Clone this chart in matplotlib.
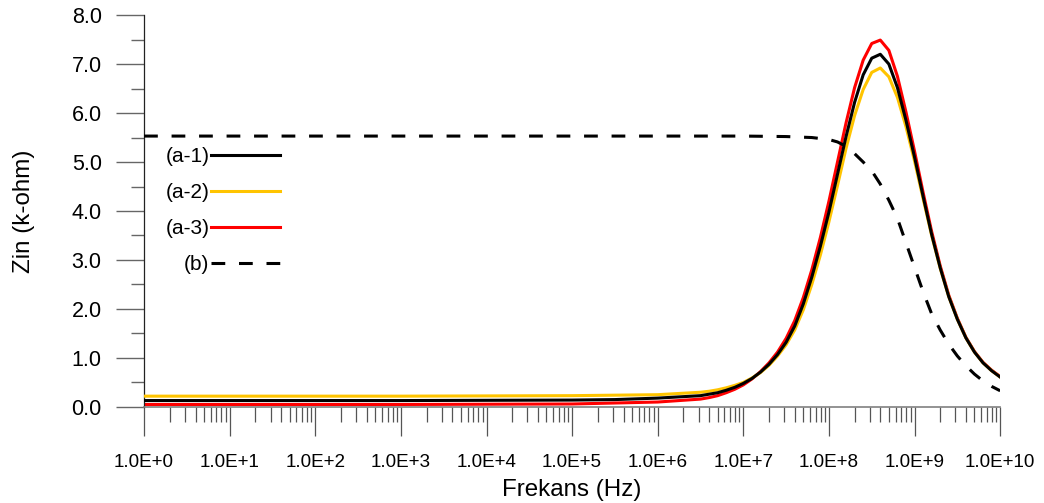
import numpy as np
import matplotlib
matplotlib.use("Agg")
import matplotlib.pyplot as plt
from matplotlib.ticker import FixedLocator, FuncFormatter, MultipleLocator

plt.rcParams['font.family'] = ['Liberation Sans', 'DejaVu Sans']

# Frequency exponents (Hz = 10**exp) for the three measured input impedances
exp_a = [0.0, 3.0, 5.0, 5.5, 6.0, 6.5, 6.6, 6.7, 6.8, 6.9, 7.0, 7.1, 7.2, 7.3,
         7.4, 7.5, 7.6, 7.7, 7.8, 7.9, 8.0, 8.1, 8.2, 8.3, 8.4, 8.5, 8.6, 8.7,
         8.8, 8.9, 9.0, 9.1, 9.2, 9.3, 9.4, 9.5, 9.6, 9.7, 9.8, 9.9, 10.0]

zin_a1 = [0.13, 0.13, 0.14, 0.15, 0.18, 0.23, 0.26, 0.29, 0.34, 0.40, 0.48,
          0.58, 0.71, 0.87, 1.07, 1.32, 1.65, 2.10, 2.65, 3.28, 3.98, 4.75,
          5.52, 6.22, 6.78, 7.12, 7.20, 7.00, 6.52, 5.85, 5.10, 4.30, 3.52,
          2.84, 2.25, 1.79, 1.41, 1.12, 0.90, 0.74, 0.61]

zin_a2 = [0.22, 0.22, 0.23, 0.24, 0.25, 0.30, 0.32, 0.35, 0.39, 0.44, 0.50,
          0.59, 0.70, 0.85, 1.04, 1.27, 1.57, 1.98, 2.50, 3.10, 3.78, 4.52,
          5.28, 5.95, 6.48, 6.83, 6.92, 6.74, 6.32, 5.72, 5.02, 4.25, 3.50,
          2.83, 2.25, 1.79, 1.41, 1.12, 0.90, 0.74, 0.61]

zin_a3 = [0.05, 0.05, 0.06, 0.08, 0.10, 0.16, 0.19, 0.23, 0.29, 0.36, 0.45,
          0.57, 0.72, 0.90, 1.12, 1.40, 1.76, 2.23, 2.80, 3.46, 4.20, 5.00,
          5.80, 6.52, 7.08, 7.42, 7.49, 7.28, 6.75, 6.02, 5.22, 4.38, 3.58,
          2.88, 2.28, 1.81, 1.42, 1.13, 0.91, 0.75, 0.62]

# Reference response (b)
exp_b = [0.0, 7.0, 7.5, 7.8, 8.0, 8.1, 8.2, 8.3, 8.4, 8.5, 8.6, 8.7, 8.8,
         8.9, 9.0, 9.1, 9.2, 9.3, 9.4, 9.5, 9.6, 9.7, 9.8, 9.9, 10.0]
zin_b = [5.53, 5.53, 5.52, 5.50, 5.46, 5.41, 5.32, 5.17, 5.00, 4.82, 4.55,
         4.22, 3.85, 3.35, 2.85, 2.35, 1.90, 1.57, 1.28, 1.04, 0.84, 0.67,
         0.53, 0.42, 0.33]

series_labels = ['(a-1)', '(a-2)', '(a-3)', '(b)']
decades = list(range(0, 11))

fig = plt.figure(figsize=(10.44, 5.03), dpi=100)
ax = fig.add_axes([0.138, 0.191, 0.820, 0.779])

f_a = np.power(10.0, exp_a)
f_b = np.power(10.0, exp_b)

lw = 2.2
l1, = ax.plot(f_a, zin_a1, color='black', lw=lw, label=series_labels[0], zorder=4)
l2, = ax.plot(f_a, zin_a2, color='#FFC400', lw=lw, label=series_labels[1], zorder=3)
l3, = ax.plot(f_a, zin_a3, color='#FF0000', lw=lw, label=series_labels[2], zorder=2)
l4, = ax.plot(f_b, zin_b, color='black', lw=lw, ls=(0, (4.5, 4.5)),
              label=series_labels[3], zorder=5)

ax.set_xscale('log')
ax.set_xlim(1, 1e10)
ax.set_ylim(0, 8)

# axis styling
for side in ('top', 'right'):
    ax.spines[side].set_visible(False)
ax.spines['left'].set_color('#222222')
ax.spines['bottom'].set_color('#808080')
ax.spines['left'].set_linewidth(0.9)
ax.spines['bottom'].set_linewidth(1.2)

ax.xaxis.set_major_locator(FixedLocator([10.0 ** d for d in decades]))
minor = [m * 10.0 ** d for d in decades[:-1] for m in range(2, 10)]
ax.xaxis.set_minor_locator(FixedLocator(minor))
ax.xaxis.set_major_formatter(FuncFormatter(lambda v, p: "1.0E+%d" % round(np.log10(v))))
ax.xaxis.set_minor_formatter(FuncFormatter(lambda v, p: ""))

ax.yaxis.set_major_locator(MultipleLocator(1.0))
ax.yaxis.set_minor_locator(MultipleLocator(0.5))
ax.yaxis.set_major_formatter(FuncFormatter(lambda v, p: "%.1f" % v))

ax.tick_params(axis='x', which='major', direction='out', length=21, width=0.9,
               color='#555555', pad=13, labelsize=13.6)
ax.tick_params(axis='x', which='minor', direction='out', length=10.5, width=0.9,
               color='#555555')
ax.tick_params(axis='y', which='major', direction='out', length=20.5, width=1.0,
               color='#666666', pad=10, labelsize=15.5)
ax.tick_params(axis='y', which='minor', direction='out', length=9.5, width=1.0,
               color='#666666')

ax.set_xlabel('Frekans (Hz)', fontsize=17.4, labelpad=6)
ax.set_ylabel('Zin (k-ohm)', fontsize=17.4, labelpad=26)

leg = ax.legend(handles=[l1, l2, l3, l4], loc='upper right',
                bbox_to_anchor=(0.159, 0.663), frameon=False, markerfirst=False,
                fontsize=15, handlelength=3.3, handletextpad=0.1,
                labelspacing=0.82, borderpad=0, borderaxespad=0)

fig.savefig('out.png', dpi=100)
